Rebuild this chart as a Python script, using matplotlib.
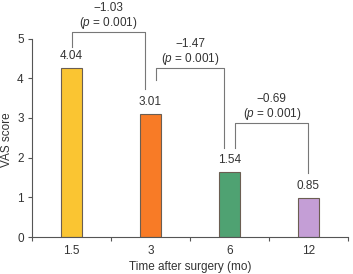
import matplotlib.pyplot as plt
import numpy as np

# data
months = ["1.5", "3", "6", "12"]
bar_heights = [4.26, 3.09, 1.64, 0.99]
value_labels = ["4.04", "3.01", "1.54", "0.85"]
bar_colors = ["#FAC532", "#F87B26", "#4FA272", "#C49ED6"]

# pairwise comparisons: (from index, to index), difference, p-value
diff_labels = ["\u22121.03", "\u22121.47", "\u22120.69"]
p_labels = ["0.001", "0.001", "0.001"]
pairs = [(0, 1), (1, 2), (2, 3)]
bracket_tops = [5.17, 4.25, 2.88]
left_ends = [4.79, 3.95, 2.24]
right_ends = [3.72, 2.24, 1.60]
left_offsets = [0.0, 0.07, 0.07]
right_offsets = [-0.07, -0.07, 0.0]

plt.rcParams["font.family"] = ["Liberation Sans", "DejaVu Sans"]
plt.rcParams["mathtext.fontset"] = "custom"
plt.rcParams["mathtext.it"] = "Liberation Sans:italic"
plt.rcParams["mathtext.rm"] = "Liberation Sans"
gray = "#555555"
txt = "#333333"
fs = 8.5

fig = plt.figure(figsize=(3.53, 2.74), dpi=100)
ax = fig.add_axes([0.0907, 0.135, 0.895, 0.865])

x = np.arange(len(months))
ax.bar(x, bar_heights, width=0.27, color=bar_colors, edgecolor="#6b5e52", linewidth=0.8)

for xi, h, lab in zip(x, bar_heights, value_labels):
    ax.text(xi, h + 0.3, lab, ha="center", va="center", fontsize=fs, color=txt)

for (i, j), top, le, re, lo, ro, d, p in zip(pairs, bracket_tops, left_ends, right_ends,
                                             left_offsets, right_offsets, diff_labels, p_labels):
    xl = x[i] + lo
    xr = x[j] + ro
    ax.plot([xl, xl, xr, xr], [le, top, top, re], color="#777777", linewidth=0.8,
            clip_on=False)
    xm = (xl + xr) / 2
    ax.text(xm, top + 0.23, "($p$ = " + p + ")", ha="center", va="center", fontsize=fs,
            color=txt)
    ax.text(xm, top + 0.6, d, ha="center", va="center", fontsize=fs, color=txt)

ax.set_xlim(-0.5, 3.5)
ax.set_ylim(0, 5.97)
ax.set_yticks([0, 1, 2, 3, 4, 5])
ax.set_xticks(x)
ax.set_xticklabels(months)
ax.set_xticks(np.arange(-0.5, 4.0, 1.0), minor=True)
ax.tick_params(axis="x", which="major", length=0, pad=6, labelsize=fs, labelcolor=txt)
ax.tick_params(axis="x", which="minor", length=3, color=gray, width=0.8)
ax.tick_params(axis="y", length=3, color=gray, width=0.8, labelsize=fs, labelcolor=txt, pad=3)

ax.spines["top"].set_visible(False)
ax.spines["right"].set_visible(False)
ax.spines["left"].set_bounds(0, 5)
ax.spines["left"].set_color(gray)
ax.spines["bottom"].set_color(gray)
ax.spines["left"].set_linewidth(0.8)
ax.spines["bottom"].set_linewidth(0.8)

fig.text(7 / 353, 1 - 140 / 274, "VAS score", rotation=90, ha="center", va="center",
         fontsize=fs, color=txt)
fig.text(190 / 353, 1 - 267 / 274, "Time after surgery (mo)", ha="center", va="center",
         fontsize=fs, color=txt)

fig.savefig("out.png", dpi=100)
